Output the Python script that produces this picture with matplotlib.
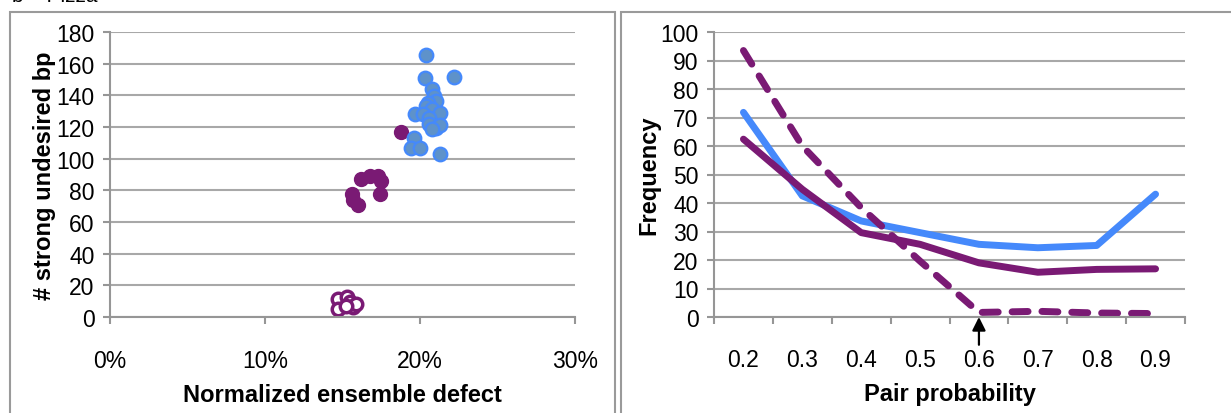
import matplotlib
matplotlib.use("Agg")
import matplotlib.pyplot as plt
from matplotlib.patches import Rectangle
from matplotlib.ticker import FixedLocator, FuncFormatter

plt.rcParams['font.family'] = ['Liberation Sans', 'DejaVu Sans']

# left panel: scatter of ensemble defect vs strong undesired base pairs
blue_x = [20.4, 20.3, 22.2, 20.8, 20.9, 21.0, 20.5, 20.4, 20.75, 21.3, 19.7,
          20.2, 20.6, 20.6, 21.0, 21.3, 20.8, 19.6, 19.4, 20.0, 21.3]
blue_y = [165.5, 151.2, 151.8, 143.8, 139.6, 136.4, 135.4, 133.3, 131.2, 129.1, 128,
          128, 125.9, 121.7, 119.6, 121.3, 118.5, 113.3, 107, 106.5, 103.2]
purple_x = [18.75, 15.6, 15.7, 16.0, 16.2, 16.8, 17.3, 17.5, 17.4]
purple_y = [117, 78, 74, 71, 87, 89, 89, 86, 78]
hollow_x = [14.7, 15.3, 15.5, 14.7, 15.7, 15.9, 15.2]
hollow_y = [11.3, 12.4, 9.2, 5.0, 6.1, 8.2, 7.0]

# right panel: frequency vs pair probability
prob_labels = ['0.2', '0.3', '0.4', '0.5', '0.6', '0.7', '0.8', '0.9']
freq_blue = [71.8, 42.5, 33.7, 29.6, 25.5, 24.3, 25.1, 43.1]
freq_purple = [62.4, 44.8, 29.6, 25.5, 19.0, 15.7, 16.7, 16.9]
freq_dashed = [93.5, 60.0, 38.4, 19.6, 1.6, 2.0, 1.4, 1.2]

BLUE = '#4589FB'
BLUE_FILL = '#5E92CA'
PURPLE = '#7A1A74'
GRID = '#A8A8A8'
SPINE = '#969696'
TICK_FS = 16.5
LABEL_FS = 17

fig = plt.figure(figsize=(12.31, 4.14), dpi=100)

# panel frames
fig.patches.append(Rectangle((10 / 1231, -0.05), 605 / 1231, 1 - 13 / 414 + 0.05,
                             transform=fig.transFigure, fill=False, ec='#9a9a9a', lw=1.5))
fig.patches.append(Rectangle((621 / 1231, -0.05), 0.6, 1 - 13 / 414 + 0.05,
                             transform=fig.transFigure, fill=False, ec='#9a9a9a', lw=1.5))
fig.text(12 / 1231, 1 - 2 / 414, 'b    Pizza', fontsize=15, va='baseline', ha='left')

bottom = 1 - 318 / 414
height = (318 - 33) / 414


def style_axes(ax):
    for s in ['top', 'right']:
        ax.spines[s].set_visible(False)
    for s in ['left', 'bottom']:
        ax.spines[s].set_color(SPINE)
        ax.spines[s].set_linewidth(1.5)
    ax.grid(axis='y', color=GRID, lw=1.5)
    ax.set_axisbelow(True)
    ax.tick_params(axis='both', which='major', direction='out', length=5, width=1.5,
                   color=SPINE, labelsize=TICK_FS)


ax1 = fig.add_axes([110 / 1231, bottom, 465 / 1231, height])
style_axes(ax1)
ax1.plot(purple_x, purple_y, 'o', ms=10, color=PURPLE, mec=PURPLE, mew=1, clip_on=False)
ax1.plot(blue_x, blue_y, 'o', ms=9.8, color=BLUE_FILL, mec=BLUE, mew=1.6, clip_on=False)
ax1.plot(hollow_x, hollow_y, 'o', ms=9, mfc='white', mec=PURPLE, mew=2.5, clip_on=False)
ax1.set_xlim(0, 30)
ax1.set_ylim(0, 180)
ax1.set_xticks([0, 10, 20, 30])
ax1.xaxis.set_major_formatter(FuncFormatter(lambda v, p: f'{v:.0f}%'))
ax1.set_yticks(range(0, 181, 20))
ax1.tick_params(axis='x', pad=18)
ax1.tick_params(axis='y', pad=6)
ax1.set_xlabel('Normalized ensemble defect', fontsize=LABEL_FS, fontweight='bold', labelpad=8)
ax1.set_ylabel('# strong undesired bp', fontsize=LABEL_FS, fontweight='bold', labelpad=0)

ax2 = fig.add_axes([714 / 1231, bottom, 471 / 1231, height])
style_axes(ax2)
xs = list(range(len(prob_labels)))
ax2.plot(xs, freq_blue, color=BLUE, lw=5, solid_capstyle='round', solid_joinstyle='round')
ax2.plot(xs, freq_purple, color=PURPLE, lw=5, solid_capstyle='round', solid_joinstyle='round')
ax2.plot(xs, freq_dashed, color=PURPLE, lw=5, linestyle=(0, (2.3, 2.0)),
         dash_capstyle='round', dash_joinstyle='round')
ax2.set_xlim(-0.5, len(prob_labels) - 0.5)
ax2.set_ylim(0, 100)
ax2.set_yticks(range(0, 101, 10))
ax2.xaxis.set_major_locator(FixedLocator([i - 0.5 for i in range(len(prob_labels) + 1)]))
ax2.xaxis.set_major_formatter(FuncFormatter(lambda v, p: ''))
ax2.xaxis.set_minor_locator(FixedLocator(xs))
ax2.set_xticklabels(prob_labels, minor=True)
ax2.tick_params(axis='x', which='minor', length=0, pad=22, labelsize=TICK_FS)
ax2.tick_params(axis='y', pad=6)
ax2.set_xlabel('Pair probability', fontsize=LABEL_FS, fontweight='bold', labelpad=8)
ax2.set_ylabel('Frequency', fontsize=LABEL_FS, fontweight='bold', labelpad=0)
ax2.annotate('', xy=(4, 0), xytext=(0, -20), textcoords='offset points',
             arrowprops=dict(arrowstyle='-|>', color='black', lw=1.6, mutation_scale=20,
                             shrinkA=0, shrinkB=0))

fig.savefig('out.png', dpi=100)
